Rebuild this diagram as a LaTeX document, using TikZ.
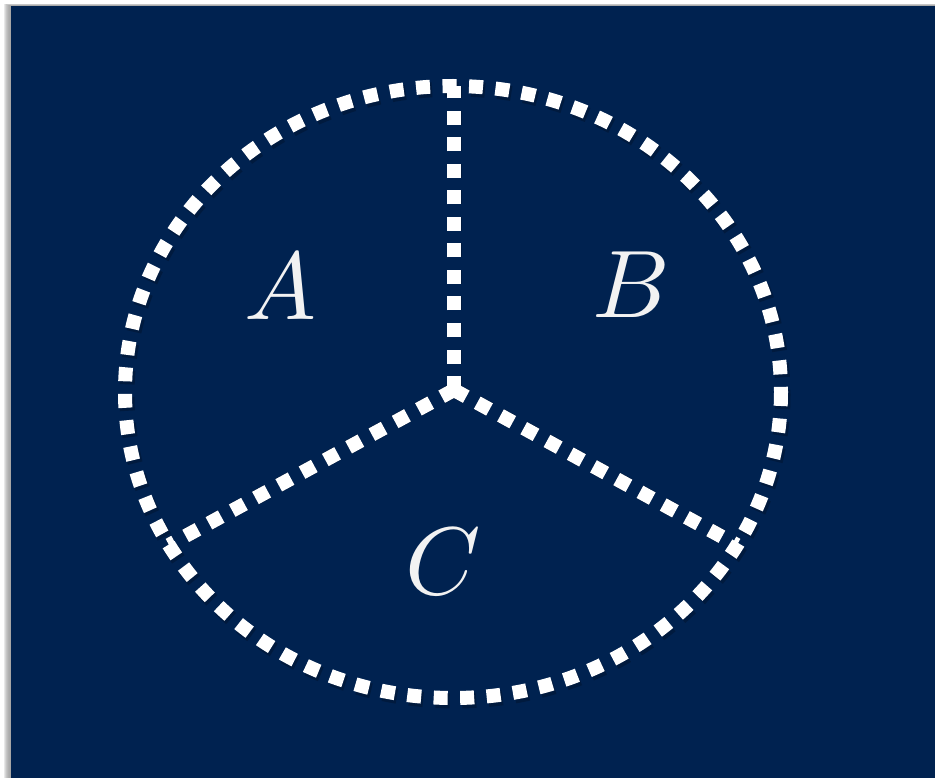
\documentclass[tikz,border=0pt]{standalone}
\definecolor{navy}{RGB}{0,34,80}
\definecolor{chalk}{RGB}{242,242,242}
\tikzset{
  dotline/.style={draw=white,line width=14pt,dash pattern=on 14pt off 12.5pt},
  dotshadow/.style={draw=black,opacity=0.22,line width=15pt,dash pattern=on 14pt off 12.5pt},
  lab/.style={text=chalk,scale=9.6,inner sep=0pt}
}
\begin{document}
\begin{tikzpicture}[x=1pt,y=-1pt]
\useasboundingbox (0,0) rectangle (935,778);
% page shadow
\foreach \i/\o in {1/0.03,2/0.04,3/0.05,4/0.06,5/0.07,6/0.08,7/0.09}{
  \fill[black,opacity=\o] (11-\i,6-\i*0.3) rectangle (935,778);
}
\fill[navy] (11,6) rectangle (935,778);
% geometry
\coordinate (O) at (454,390);
\coordinate (T) at (454,86);
\coordinate (L) at (169,545);
\coordinate (R) at (737,545);
% shadows
\begin{scope}[shift={(2,3)}]
  \draw[dotshadow] (453,392) ellipse [x radius=328,y radius=306];
  \draw[dotshadow] (O) -- (T);
  \draw[dotshadow] (O) -- (L);
  \draw[dotshadow] (O) -- (R);
\end{scope}
% circle and spokes
\draw[dotline] (453,392) ellipse [x radius=328,y radius=306];
\draw[dotline] (O) -- (T);
\draw[dotline] (O) -- (L);
\draw[dotline] (O) -- (R);
% labels
\node[lab] (a) at (280,287) {$A$};
\node[lab] (b) at (631,285) {$B$};
\node[lab] (c) at (443,562) {$C$};
\end{tikzpicture}
\end{document}
